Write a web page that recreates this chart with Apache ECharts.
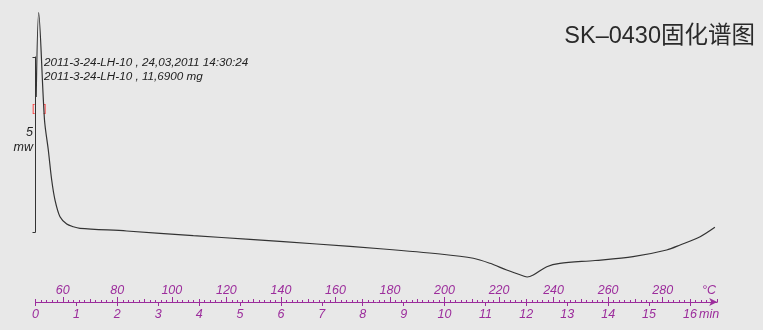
<!DOCTYPE html>
<html>
<head>
<meta charset="utf-8">
<script src="https://cdn.jsdelivr.net/npm/echarts@6/dist/echarts.min.js"></script>
<style>
html,body{margin:0;padding:0;background:#e8e8e8;}
#c{width:763px;height:330px;}
</style>
</head>
<body>
<div id="c"></div>
<script>
// DSC curve: time (min) vs heat flow (mW)
const timeMin = [0.017, 0.078, 0.220, 0.313, 0.396, 0.477, 0.599, 0.763, 0.924, 1.088, 2.23, 3.858, 5.244, 6.875, 8.504, 9.89, 10.704, 11.11, 11.52, 11.93, 12.02, 12.17, 12.50, 12.82, 13.68, 14.61, 15.43, 15.76, 16.25, 16.61];
const heatFlow = [5.857, 8.266, 5.2, 4.343, 3.486, 2.914, 2.437, 2.229, 2.151, 2.106, 2.029, 1.894, 1.791, 1.657, 1.514, 1.371, 1.249, 1.106, 0.914, 0.743, 0.714, 0.771, 1.009, 1.106, 1.186, 1.294, 1.486, 1.629, 1.866, 2.134];
const tempLabels = [60, 80, 100, 120, 140, 160, 180, 200, 220, 240, 260, 280];
const infoLines = ['2011-3-24-LH-10 , 24,03,2011 14:30:24', '2011-3-24-LH-10 , 11,6900 mg'];
const titleText = 'SK–0430固化谱图';

const purple = '#9c2d9c';
const chart = echarts.init(document.getElementById('c'), null, {renderer: 'canvas'});
const font = '"Liberation Sans", Arial, sans-serif';
chart.setOption({
  backgroundColor: '#e8e8e8',
  animation: false,
  grid: [
    {left: 35.5, right: 45.8, top: 1, bottom: 28},
    {left: 35.5, top: 57, height: 175, width: 20}
  ],
  xAxis: [
    {
      gridIndex: 0, type: 'value', min: 0, max: 50/3, interval: 1, position: 'bottom',
      axisLine: {show: true, lineStyle: {color: purple, width: 1}, symbol: ['none', 'arrow'], symbolSize: [6, 8]},
      axisTick: {show: true, length: 4, lineStyle: {color: purple}},
      minorTick: {show: false},
      splitLine: {show: false},
      axisLabel: {color: purple, fontStyle: 'italic', fontSize: 12.5, fontFamily: font, margin: 6,
        showMaxLabel: false,
        formatter: v => Number.isInteger(v) ? String(v) : ''}
    },
    {
      gridIndex: 0, type: 'value', min: 50, max: 300, interval: 10, position: 'bottom',
      axisLine: {show: false},
      axisTick: {show: true, inside: true, length: 3, lineStyle: {color: purple}},
      minorTick: {show: true, splitNumber: 5, length: 2, lineStyle: {color: purple}},
      splitLine: {show: false}, minorSplitLine: {show: false},
      axisLabel: {show: false}
    },
    {
      gridIndex: 0, type: 'value', min: 50, max: 300, position: 'bottom',
      axisLine: {show: false},
      axisTick: {show: true, inside: true, length: 5, customValues: tempLabels, lineStyle: {color: purple}},
      splitLine: {show: false},
      axisLabel: {show: true, inside: true, margin: 5, customValues: tempLabels, color: purple, fontStyle: 'italic', fontSize: 12.5, fontFamily: font}
    },
    {gridIndex: 1, type: 'value', show: false}
  ],
  yAxis: [
    {gridIndex: 0, type: 'value', min: 0, max: 8.6, show: false},
    {gridIndex: 1, type: 'value', min: 0, max: 5, interval: 5, position: 'left',
      axisLine: {show: true, lineStyle: {color: '#333', width: 1}},
      axisTick: {show: true, length: 3, lineStyle: {color: '#333'}},
      axisLabel: {show: false}, splitLine: {show: false}}
  ],
  series: [{
    type: 'line', xAxisIndex: 0, yAxisIndex: 0,
    data: timeMin.map((t, i) => [t, heatFlow[i]]),
    showSymbol: false, smooth: 0.3,
    lineStyle: {color: '#333', width: 1.2}
  }],
  graphic: [
    {type: 'text', x: 44, y: 57, style: {text: infoLines[0], font: 'italic 11.7px ' + font, fill: '#222'}},
    {type: 'text', x: 44, y: 71, style: {text: infoLines[1], font: 'italic 11.7px ' + font, fill: '#222'}},
    {type: 'text', x: 33, y: 126, style: {text: '5', font: 'italic 12.5px ' + font, fill: '#222', align: 'right'}},
    {type: 'text', x: 33, y: 141, style: {text: 'mw', font: 'italic 12.5px ' + font, fill: '#222', align: 'right'}},
    {type: 'text', x: 32, y: 104, style: {text: '[', font: '10px ' + font, fill: '#ff3030'}},
    {type: 'text', x: 43.5, y: 104, style: {text: ']', font: '10px ' + font, fill: '#ff3030'}},
    {type: 'text', x: 755, y: 25, style: {text: titleText, font: '23.5px "Liberation Sans", "Noto Sans CJK SC", sans-serif', fill: '#2a2a2a', align: 'right'}},
    {type: 'text', x: 716, y: 284, style: {text: '°C', font: 'italic 12.5px ' + font, fill: purple, align: 'right'}},
    {type: 'text', x: 699, y: 308, style: {text: 'min', font: 'italic 12.5px ' + font, fill: purple}}
  ]
});
</script>
</body>
</html>
